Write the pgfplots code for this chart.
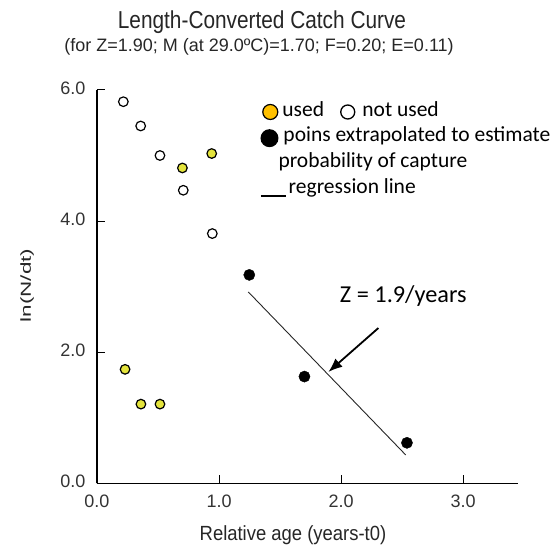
\documentclass[border=0pt]{standalone}
\usepackage{pgfplots}
\pgfplotsset{compat=1.18}
\usetikzlibrary{arrows.meta}
\usepackage{fontspec}
\setmainfont{Liberation Sans}
\newfontfamily\calfont{Carlito}
\newfontfamily\narrowfont[FakeStretch=0.85]{Liberation Sans}
\newfontfamily\semifont[FakeStretch=0.9]{Liberation Sans}
\newfontfamily\widefont[FakeStretch=1.55]{Liberation Sans}
\definecolor{ylw}{RGB}{228,228,60}
\definecolor{lgyel}{RGB}{255,192,0}

\begin{document}
\begin{tikzpicture}
\useasboundingbox (-97pt,-64.5pt) rectangle (453pt,483.5pt);
\begin{axis}[
  at={(0pt,0pt)}, anchor=south west,
  scale only axis, width=421pt, height=393.6pt,
  xmin=0, xmax=3.45, ymin=0, ymax=6,
  axis lines=left, axis line style={-, line width=1.1pt},
  xtick={0,1,2,3}, ytick={0,2,4,6},
  tick align=inside, major tick length=8pt,
  tick style={line width=1pt, black},
  /pgf/number format/.cd, fixed, fixed zerofill, precision=1, assume math mode=true,
  /pgfplots/.cd,
  tick label style={font=\fontsize{18}{20}\selectfont, text=black!80},
  xticklabel style={yshift=-8pt},
  yticklabel style={xshift=-8pt, yshift=2pt},
  clip=false,
]
% not used (open)
\addplot[only marks, mark=*, mark size=4.8pt, mark options={fill=white, draw=black, line width=1.2pt}]
  coordinates {(0.216,5.82) (0.358,5.45) (0.516,5.00) (0.707,4.47) (0.945,3.81)};
% used (yellow)
\addplot[only marks, mark=*, mark size=4.8pt, mark options={fill=ylw, draw=black, line width=1.2pt}]
  coordinates {(0.70,4.81) (0.94,5.03) (0.23,1.74) (0.36,1.21) (0.516,1.21)};
% extrapolated (black)
\addplot[only marks, mark=*, mark size=5.6pt, mark options={fill=black, draw=black}]
  coordinates {(1.248,3.18) (1.70,1.63) (2.54,0.62)};
% regression line
\addplot[black!85, line width=0.9pt, no marks] coordinates {(1.24,2.92) (2.53,0.435)};
\node[font=\calfont\fontsize{24.3}{27}\selectfont] at (axis cs:2.51,2.86) {Z = 1.9/years};
\draw[line width=1.8pt, -{Latex[length=14pt, width=11pt]}] (axis cs:2.306,2.37) -- (axis cs:1.896,1.70);
\end{axis}
% titles
\node[font=\narrowfont\fontsize{24.5}{27}\selectfont, text=black!85] at (165pt,461.5pt) {Length-Converted Catch Curve};
\node[font=\fontsize{18}{20}\selectfont, text=black!85] at (162pt,436.5pt) {(for Z=1.90; M (at 29.0ºC)=1.70; F=0.20; E=0.11)};
\node[font=\widefont\fontsize{14.5}{16}\selectfont, text=black!85, rotate=90] at (-70pt,198pt) {ln(N/dt)};
\node[font=\semifont\fontsize{20.5}{23}\selectfont, text=black!85] at (196pt,-52pt) {Relative age (years-t0)};
% legend
\node[anchor=base west, inner sep=0pt, font=\calfont\fontsize{21.5}{24}\selectfont] at (165pt,366.5pt)
  {\tikz[baseline=-5pt]\draw[fill=lgyel, line width=1.2pt] (0,0) circle (7.5pt);\kern4pt used\kern16pt\tikz[baseline=-5pt]\draw[fill=white, line width=1.3pt] (0,0) circle (7pt);\kern7pt not used};
\node[anchor=base west, inner sep=0pt, font=\calfont\fontsize{21.5}{24}\selectfont] at (163.3pt,341.8pt)
  {\tikz[baseline=-3.5pt]\fill[black] (0,0) circle (9pt);\kern5pt poins extrapolated to estimate};
\node[anchor=base west, inner sep=0pt, font=\calfont\fontsize{21.5}{24}\selectfont] at (181.3pt,316.2pt)
  {probability of capture};
\node[anchor=base west, inner sep=0pt, font=\calfont\fontsize{21.5}{24}\selectfont] at (163pt,290.2pt)
  {\tikz[baseline=2.7pt]\draw[line width=1.5pt] (0,0) -- (25pt,0);\kern2pt regression line};
\end{tikzpicture}
\end{document}
